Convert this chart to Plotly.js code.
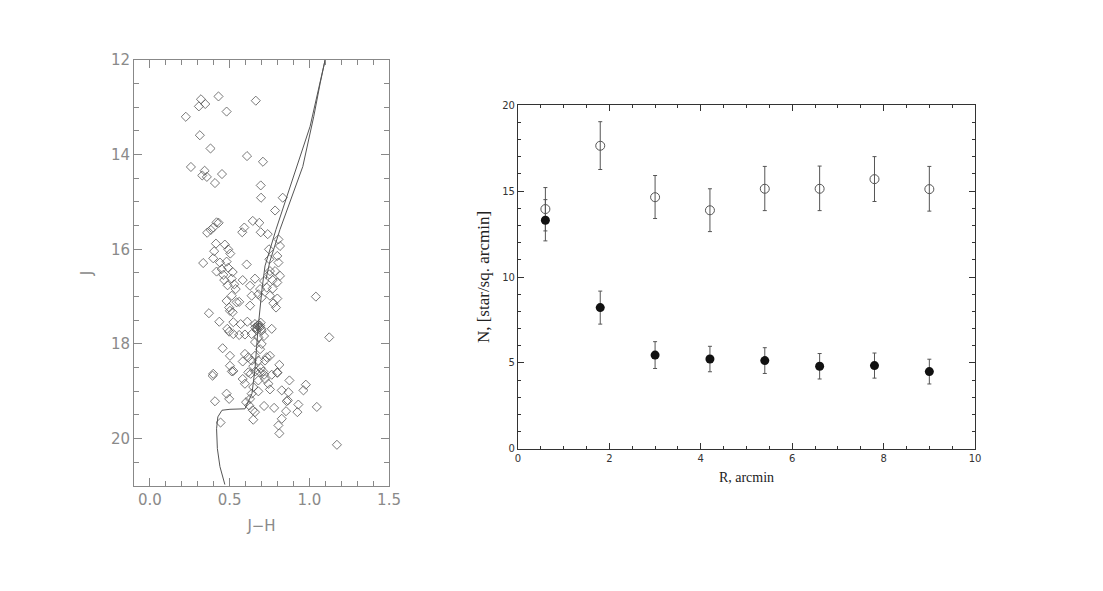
<!DOCTYPE html>
<html>
<head>
<meta charset="utf-8">
<script src="https://cdn.plot.ly/plotly-3.0.1.min.js"></script>
<style>
  body { margin: 0; background: #fff; }
  #chart { width: 1103px; height: 591px; }
</style>
</head>
<body>
<div id="chart"></div>
<script>
// left panel: colour-magnitude diagram (J vs J-H)
var starJH = [
    0.32, 0.43, 0.307, 0.347, 0.225, 0.481, 0.664, 0.313, 0.38, 0.609, 0.709, 0.257, 0.343, 0.328, 0.357, 0.452, 0.408, 0.695, 0.697, 0.833, 0.785,
    0.418, 0.431, 0.397, 0.382, 0.359, 0.645, 0.686, 0.592, 0.579, 0.695, 0.739, 0.414, 0.47, 0.403, 0.491, 0.504, 0.747, 0.806, 0.816, 0.397,
    0.334, 0.481, 0.439, 0.607, 0.749, 0.799, 0.806, 0.45, 0.418, 0.491, 0.519, 0.46, 0.753, 0.749, 0.785, 0.816, 0.466, 0.513, 0.582, 0.659,
    0.716, 0.77, 0.799, 0.529, 0.487, 0.538, 0.691, 0.733, 0.77, 0.628,
    0.513, 0.481, 0.544, 0.56, 0.638, 0.68, 0.701, 0.753, 0.799, 0.628, 0.774, 0.791, 0.497, 0.519, 0.502, 0.37, 0.435, 0.523, 0.569, 0.611,
    0.659, 0.691, 0.67, 0.701, 0.764, 0.485, 0.497, 0.523, 0.56, 0.596, 0.638, 0.68, 0.716, 0.659, 0.701, 0.691, 0.456, 0.502, 0.596, 0.617,
    0.659, 0.733, 0.753, 0.582, 0.638, 0.68, 0.722, 0.812, 0.502, 0.648, 0.695, 0.397, 0.523, 0.617, 0.711, 0.799,
    0.68, 0.69, 0.67, 0.695, 0.675, 0.70, 0.66,
    0.393, 0.514, 0.582, 0.596, 0.632, 0.661, 0.691, 0.716, 0.764, 0.799, 0.68, 0.722, 0.743, 0.875, 0.648, 0.68, 0.753, 0.827, 0.869, 0.481,
    0.497, 0.638, 0.628, 0.408, 0.603, 0.623, 0.858, 0.716, 0.779, 0.931, 0.925, 0.645, 0.659, 0.854, 0.443, 0.648, 0.827, 0.806, 0.812,
    1.041, 1.125, 0.978, 0.963, 0.865, 1.047, 1.173
];
var starJ = [
    12.83, 12.77, 12.98, 12.93, 13.2, 13.09, 12.86, 13.59, 13.87, 14.03, 14.15, 14.26, 14.34, 14.44, 14.47, 14.41, 14.6, 14.65, 14.91, 14.91, 15.18,
    15.43, 15.44, 15.54, 15.59, 15.65, 15.4, 15.44, 15.54, 15.64, 15.64, 15.68, 15.88, 15.9, 16.04, 16.0, 16.09, 16.0, 15.79, 15.93, 16.19,
    16.29, 16.26, 16.28, 16.32, 16.21, 16.14, 16.28, 16.42, 16.47, 16.39, 16.48, 16.54, 16.46, 16.53, 16.46, 16.56, 16.65, 16.62, 16.65, 16.62,
    16.67, 16.65, 16.7, 16.74, 16.76, 16.84, 16.84, 16.81, 16.83, 16.77,
    16.98, 17.09, 17.12, 17.11, 16.98, 16.95, 17.02, 16.98, 17.04, 17.19, 17.14, 17.23, 17.23, 17.33, 17.3, 17.35, 17.53, 17.54, 17.58, 17.53,
    17.58, 17.61, 17.67, 17.72, 17.68, 17.68, 17.74, 17.79, 17.81, 17.8, 17.79, 17.86, 17.83, 17.96, 18.0, 18.11, 18.09, 18.25, 18.21, 18.28,
    18.25, 18.28, 18.25, 18.37, 18.35, 18.35, 18.35, 18.44, 18.46, 18.47, 18.51, 18.63, 18.57, 18.6, 18.58, 18.6,
    17.6, 17.65, 17.7, 17.55, 17.62, 17.68, 17.65,
    18.67, 18.58, 18.74, 18.84, 18.63, 18.58, 18.6, 18.65, 18.65, 18.61, 18.77, 18.74, 18.84, 18.77, 18.91, 19.0, 18.96, 18.98, 19.02, 19.05,
    19.16, 19.05, 19.16, 19.21, 19.23, 19.3, 19.21, 19.31, 19.35, 19.28, 19.44, 19.4, 19.44, 19.42, 19.66, 19.6, 19.58, 19.72, 19.89,
    17.0, 17.86, 18.86, 18.98, 19.19, 19.33, 20.13
];

// isochrone: main branch and second branch at the bright end
var isoJH = [1.12, 1.099, 1.005, 0.791, 0.722, 0.703, 0.678, 0.659, 0.640, 0.596, 0.502, 0.452, 0.426, 0.418, 0.423, 0.439, 0.47];
var isoJ = [11.6, 12.0, 13.40, 15.58, 16.35, 16.84, 17.68, 18.53, 19.05, 19.37, 19.38, 19.40, 19.54, 19.79, 20.21, 20.59, 20.97];
var iso2JH = [1.12, 1.099, 1.068, 1.028, 0.959, 0.816, 0.753, 0.728];
var iso2J = [11.6, 12.0, 12.49, 13.19, 14.25, 15.58, 16.25, 16.63];

// right panel: radial density profile
var radius = [0.6, 1.8, 3.0, 4.2, 5.4, 6.6, 7.8, 9.0];
var openN = [13.95, 17.63, 14.64, 13.88, 15.13, 15.13, 15.69, 15.11];
var openErrUp = [1.25, 1.4, 1.26, 1.25, 1.3, 1.32, 1.31, 1.32];
var openErrDown = [1.27, 1.38, 1.24, 1.24, 1.27, 1.27, 1.3, 1.28];
var filledN = [13.3, 8.22, 5.46, 5.23, 5.14, 4.81, 4.85, 4.5];
var filledErr = [1.2, 0.96, 0.78, 0.74, 0.75, 0.74, 0.73, 0.72];

var greyText = '#8a8a8a';

var traces = [
    {
        x: isoJH, y: isoJ, type: 'scatter', mode: 'lines',
        line: {color: '#555', width: 1}, xaxis: 'x', yaxis: 'y', hoverinfo: 'skip'
    },
    {
        x: iso2JH, y: iso2J, type: 'scatter', mode: 'lines',
        line: {color: '#555', width: 1}, xaxis: 'x', yaxis: 'y', hoverinfo: 'skip'
    },
    {
        x: starJH, y: starJ, type: 'scatter', mode: 'markers',
        marker: {symbol: 'diamond-open', size: 7, color: '#555', line: {width: 0.8}},
        xaxis: 'x', yaxis: 'y'
    },
    {
        x: radius, y: openN, type: 'scatter', mode: 'markers',
        marker: {symbol: 'circle-open', size: 9, color: '#555', line: {width: 1}},
        error_y: {type: 'data', symmetric: false, array: openErrUp, arrayminus: openErrDown,
                  color: '#555', thickness: 1, width: 2},
        xaxis: 'x2', yaxis: 'y2'
    },
    {
        x: radius, y: filledN, type: 'scatter', mode: 'markers',
        marker: {symbol: 'circle', size: 9, color: '#111'},
        error_y: {type: 'data', array: filledErr, color: '#555', thickness: 1, width: 2},
        xaxis: 'x2', yaxis: 'y2'
    }
];

var layout = {
    width: 1103,
    height: 591,
    margin: {l: 0, r: 0, t: 0, b: 0},
    paper_bgcolor: '#fff',
    plot_bgcolor: 'rgba(0,0,0,0)',
    showlegend: false,
    xaxis: {
        domain: [0.1215, 0.3527],
        anchor: 'y',
        range: [-0.1, 1.5],
        tick0: 0, dtick: 0.5, tickformat: '.1f',
        ticks: 'inside', ticklen: 8, tickcolor: '#888',
        minor: {dtick: 0.1, ticks: 'inside', ticklen: 5, tickcolor: '#888', showgrid: false},
        showline: true, linecolor: '#888', linewidth: 1, mirror: 'allticks',
        showgrid: false, zeroline: false,
        tickfont: {family: 'DejaVu Sans', size: 15, color: greyText},
        title: {text: 'J\u2212H', font: {family: 'DejaVu Sans', size: 15, color: greyText}, standoff: 12}
    },
    yaxis: {
        domain: [0.1777, 0.8985],
        anchor: 'x',
        range: [21, 12],
        tick0: 12, dtick: 2,
        ticks: 'inside', ticklen: 8, tickcolor: '#888',
        minor: {dtick: 0.5, ticks: 'inside', ticklen: 5, tickcolor: '#888', showgrid: false},
        showline: true, linecolor: '#888', linewidth: 1, mirror: 'allticks',
        showgrid: false, zeroline: false,
        tickfont: {family: 'DejaVu Sans', size: 15, color: greyText},
        title: {text: 'J', font: {family: 'DejaVu Sans', size: 15, color: greyText}, standoff: 14}
    },
    xaxis2: {
        domain: [0.4696, 0.8840],
        anchor: 'y2',
        range: [0, 10],
        tick0: 0, dtick: 2,
        ticks: 'inside', ticklen: 6, tickcolor: '#333',
        minor: {dtick: 0.5, ticks: 'inside', ticklen: 3, tickcolor: '#333', showgrid: false},
        showline: true, linecolor: '#333', linewidth: 1, mirror: 'allticks',
        showgrid: false, zeroline: false,
        tickfont: {family: 'DejaVu Sans', size: 10, color: '#333'},
        title: {text: 'R, arcmin', font: {family: 'Liberation Serif', size: 14, color: '#222'}, standoff: 9}
    },
    yaxis2: {
        domain: [0.2403, 0.8223],
        anchor: 'x2',
        range: [0, 20],
        tick0: 0, dtick: 5,
        ticks: 'inside', ticklen: 6, tickcolor: '#333',
        minor: {dtick: 1, ticks: 'inside', ticklen: 3, tickcolor: '#333', showgrid: false},
        showline: true, linecolor: '#333', linewidth: 1, mirror: 'allticks',
        showgrid: false, zeroline: false,
        tickfont: {family: 'DejaVu Sans', size: 10, color: '#333'},
        title: {text: 'N, [star/sq. arcmin]', font: {family: 'Liberation Serif', size: 17, color: '#222'}, standoff: 8}
    }
};

Plotly.newPlot('chart', traces, layout, {staticPlot: true});
</script>
</body>
</html>
